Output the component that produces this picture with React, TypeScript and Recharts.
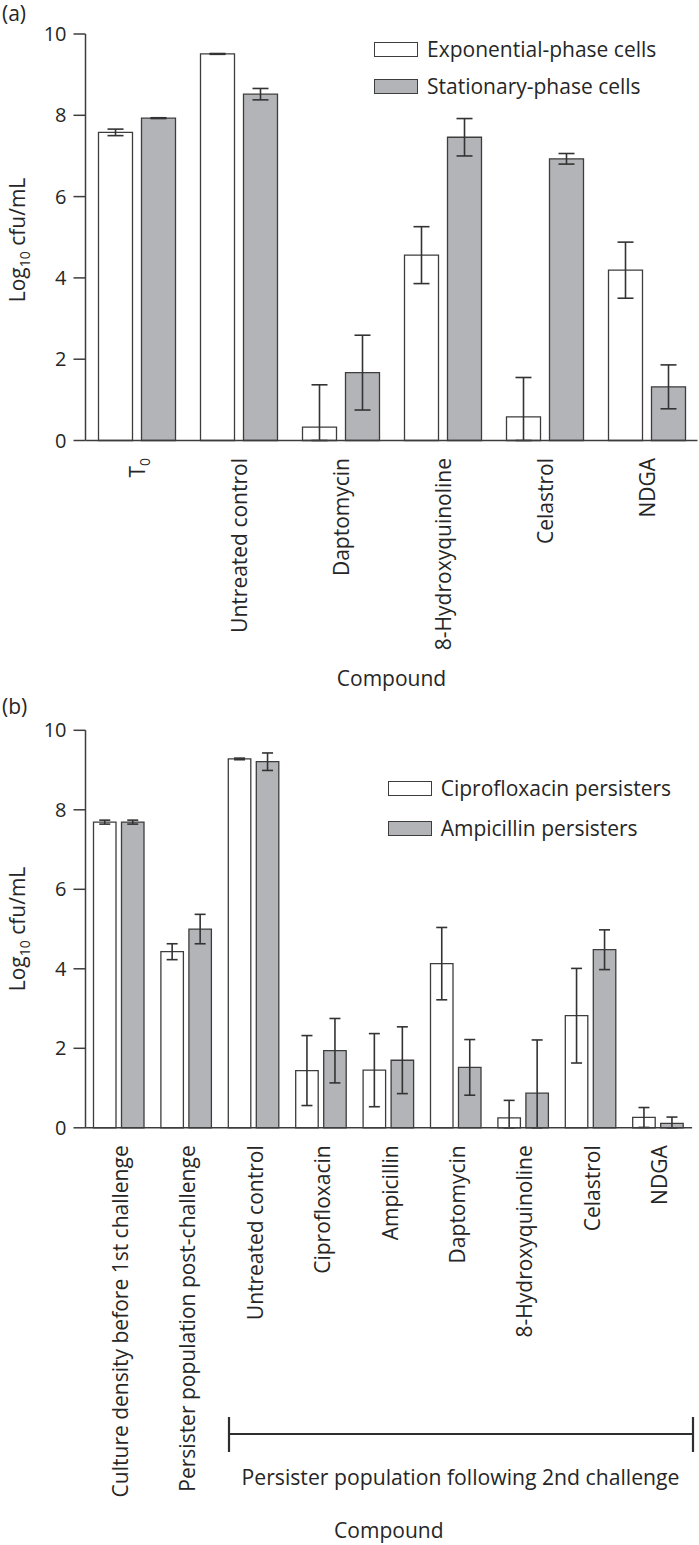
import React from "react";
import { BarChart, Bar, XAxis, YAxis, ErrorBar, Legend } from "recharts";

const FONT = "'Open Sans', sans-serif";
const INK = "#262626";
const LINE = "#3d3d3d";
const GREY = "#b3b4b8";

// panel (a)
const compoundsA = ["T0", "Untreated control", "Daptomycin", "8-Hydroxyquinoline", "Celastrol", "NDGA"];
const expMeanA = [7.58, 9.51, 0.33, 4.56, 0.58, 4.19];
const expErrA: (number | number[])[] = [0.08, 0.01, [0.33, 1.04], 0.7, [0.58, 0.97], 0.69];
const statMeanA = [7.93, 8.52, 1.67, 7.46, 6.93, 1.32];
const statErrA = [0.01, 0.14, 0.92, 0.46, 0.13, 0.54];

// panel (b)
const compoundsB = [
  "Culture density before 1st challenge",
  "Persister population post-challenge",
  "Untreated control",
  "Ciprofloxacin",
  "Ampicillin",
  "Daptomycin",
  "8-Hydroxyquinoline",
  "Celastrol",
  "NDGA",
];
const ciproMeanB = [7.69, 4.43, 9.28, 1.44, 1.45, 4.13, 0.25, 2.82, 0.26];
const ciproErrB: (number | number[])[] = [0.05, 0.2, 0.02, 0.88, 0.92, 0.91, [0.25, 0.44], 1.19, [0.25, 0.25]];
const ampMeanB = [7.69, 5.0, 9.21, 1.94, 1.7, 1.52, 0.87, 4.48, 0.11];
const ampErrB: (number | number[])[] = [0.05, 0.37, 0.22, 0.81, 0.84, 0.7, [0.87, 1.34], 0.5, [0.11, 0.16]];

const yTicks = [0, 2, 4, 6, 8, 10];

const dataA = compoundsA.map((name, i) => ({
  name,
  exp: expMeanA[i],
  expErr: expErrA[i],
  stat: statMeanA[i],
  statErr: statErrA[i],
}));

const dataB = compoundsB.map((name, i) => ({
  name,
  cipro: ciproMeanB[i],
  ciproErr: ciproErrB[i],
  amp: ampMeanB[i],
  ampErr: ampErrB[i],
}));

const fills: Record<string, string> = { exp: "#ffffff", stat: GREY, cipro: "#ffffff", amp: GREY };

function RotTick(props: any) {
  const { x, y, payload } = props;
  const label = payload.value;
  return (
    <g transform={`translate(${x},${y})`}>
      <text
        transform="rotate(-90)"
        x={-17.5}
        y={0}
        dy="0.42em"
        textAnchor="end"
        fontSize={21}
        fill={INK}
        fontFamily={FONT}
      >
        {label === "T0" ? (
          <>
            <tspan>T</tspan>
            <tspan dy={5} fontSize={14}>0</tspan>
          </>
        ) : (
          label
        )}
      </text>
    </g>
  );
}

function YTitle(props: any) {
  const cy = props.cy;
  return (
    <text
      x={18}
      y={cy}
      transform={`rotate(-90 18 ${cy})`}
      textAnchor="middle"
      dy="0.35em"
      fontSize={21}
      fill={INK}
      fontFamily={FONT}
    >
      <tspan>Log</tspan>
      <tspan dy={5} fontSize={14}>10</tspan>
      <tspan dy={-5}>{" cfu/mL"}</tspan>
    </text>
  );
}

function LegendBox(props: any) {
  const { payload, rowH, order } = props;
  const items = [...(payload || [])].sort(
    (p: any, q: any) => order.indexOf(p.dataKey) - order.indexOf(q.dataKey)
  );
  return (
    <div style={{ fontFamily: FONT, fontSize: 21, color: INK }}>
      {items.map((e: any) => (
        <div key={e.value} style={{ display: "flex", alignItems: "center", height: rowH }}>
          <span
            style={{
              width: 44,
              height: 15,
              boxSizing: "border-box",
              border: `1.5px solid ${LINE}`,
              background: fills[e.dataKey] || e.color,
              marginRight: 9,
              flex: "none",
            }}
          />
          <span style={{ lineHeight: 1, whiteSpace: "nowrap" }}>{e.value}</span>
        </div>
      ))}
    </div>
  );
}

const axisStyle = { stroke: LINE, strokeWidth: 1.5 };

export default function App() {
  return (
    <div
      style={{
        position: "absolute",
        left: 0,
        top: 0,
        width: 699,
        height: 1545,
        background: "#fff",
        fontFamily: FONT,
      }}
    >
      <div style={{ position: "absolute", left: 0, top: 0 }}>
        <BarChart
          width={699}
          height={700}
          data={dataA}
          margin={{ top: 34, right: 1.5, bottom: 0, left: 0 }}
          barSize={34}
          barGap={9}
        >
          <XAxis
            dataKey="name"
            interval={0}
            tickLine={false}
            tickSize={0}
            tickMargin={0}
            height={259.5}
            axisLine={axisStyle}
            tick={<RotTick />}
            label={{ value: "Compound", position: "insideBottom", offset: 14, fill: INK, fontSize: 21, fontFamily: FONT }}
          />
          <YAxis
            domain={[0, 10]}
            ticks={yTicks}
            width={85.5}
            tickSize={12}
            tickMargin={7}
            axisLine={axisStyle}
            tickLine={axisStyle}
            tick={{ fontSize: 20, fill: INK, fontFamily: FONT }}
            label={<YTitle cy={240} />}
          />
          <Legend
            layout="vertical"
            align="center"
            verticalAlign="middle"
            wrapperStyle={{ top: 30.5, left: 374, width: 320 }}
            content={<LegendBox rowH={37} order={["exp", "stat"]} />}
          />
          <Bar dataKey="exp" name="Exponential-phase cells" fill="#ffffff" stroke={LINE} strokeWidth={1.3} isAnimationActive={false}>
            <ErrorBar dataKey="expErr" width={8} stroke="#333" strokeWidth={1.6} isAnimationActive={false} />
          </Bar>
          <Bar dataKey="stat" name="Stationary-phase cells" fill={GREY} stroke={LINE} strokeWidth={1.3} isAnimationActive={false}>
            <ErrorBar dataKey="statErr" width={8} stroke="#333" strokeWidth={1.6} isAnimationActive={false} />
          </Bar>
        </BarChart>
      </div>

      <div style={{ position: "absolute", left: 0, top: 690 }}>
        <BarChart
          width={699}
          height={855}
          data={dataB}
          margin={{ top: 40.3, right: 6.9, bottom: 0, left: 0 }}
          barSize={22.5}
          barGap={5.5}
        >
          <XAxis
            dataKey="name"
            interval={0}
            tickLine={false}
            tickSize={0}
            tickMargin={0}
            height={417.2}
            axisLine={axisStyle}
            tick={<RotTick />}
            label={{ value: "Compound", position: "insideBottom", offset: 7, fill: INK, fontSize: 21, fontFamily: FONT }}
          />
          <YAxis
            domain={[0, 10]}
            ticks={yTicks}
            width={85.5}
            tickSize={12}
            tickMargin={7}
            axisLine={axisStyle}
            tickLine={axisStyle}
            tick={{ fontSize: 20, fill: INK, fontFamily: FONT }}
            label={<YTitle cy={239} />}
          />
          <Legend
            layout="vertical"
            align="center"
            verticalAlign="middle"
            wrapperStyle={{ top: 78, left: 387.7, width: 300 }}
            content={<LegendBox rowH={40} order={["cipro", "amp"]} />}
          />
          <Bar dataKey="cipro" name="Ciprofloxacin persisters" fill="#ffffff" stroke={LINE} strokeWidth={1.3} isAnimationActive={false}>
            <ErrorBar dataKey="ciproErr" width={5.5} stroke="#333" strokeWidth={1.6} isAnimationActive={false} />
          </Bar>
          <Bar dataKey="amp" name="Ampicillin persisters" fill={GREY} stroke={LINE} strokeWidth={1.3} isAnimationActive={false}>
            <ErrorBar dataKey="ampErr" width={5.5} stroke="#333" strokeWidth={1.6} isAnimationActive={false} />
          </Bar>
        </BarChart>
      </div>

      <svg
        width={699}
        height={1545}
        style={{ position: "absolute", left: 0, top: 0, pointerEvents: "none" }}
        fontFamily={FONT}
      >
        <text x={2} y={21} fontSize={21} fill={INK}>(a)</text>
        <text x={2} y={714} fontSize={21} fill={INK}>(b)</text>
        <g stroke="#2e2e2e" strokeWidth={2.2}>
          <line x1={229} y1={1434} x2={693} y2={1434} />
          <line x1={229} y1={1417} x2={229} y2={1452} />
          <line x1={693} y1={1417} x2={693} y2={1452} />
        </g>
        <text x={460.5} y={1485} fontSize={21.2} fill={INK} textAnchor="middle">
          Persister population following 2nd challenge
        </text>
      </svg>
    </div>
  );
}
